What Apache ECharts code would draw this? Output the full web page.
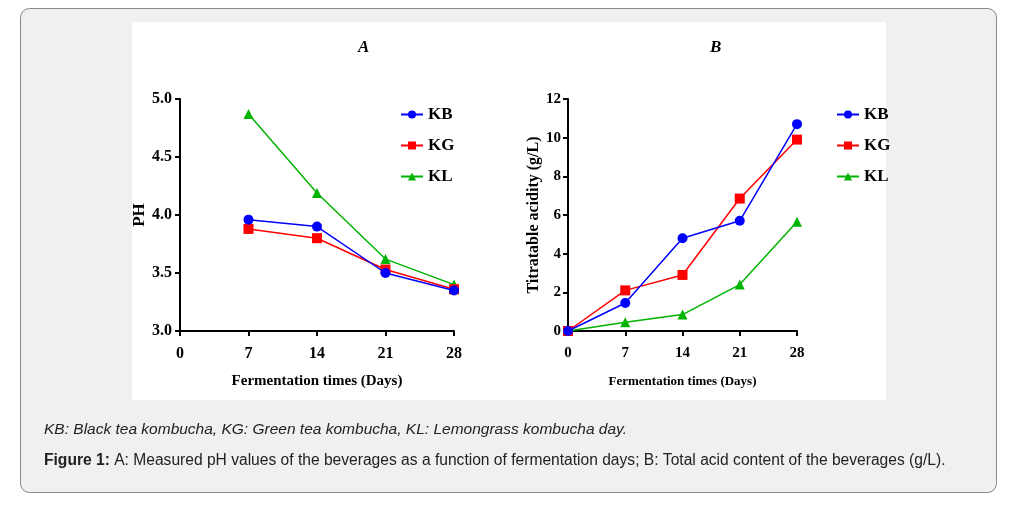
<!DOCTYPE html>
<html>
<head>
<meta charset="utf-8">
<script src="https://cdn.jsdelivr.net/npm/echarts@6/dist/echarts.min.js"></script>
<style>
  html, body { margin: 0; padding: 0; background: #fff; }
  #main { width: 1023px; height: 506px; }
</style>
</head>
<body>
<div id="main"></div>
<script>
// fermentation days
var daysA = [7, 14, 21, 28];
var daysB = [0, 7, 14, 21, 28];

// A: pH
var phKB = [3.96, 3.90, 3.50, 3.35];
var phKG = [3.88, 3.80, 3.53, 3.36];
var phKL = [4.87, 4.19, 3.62, 3.40];

// B: titratable acidity (g/L)
var acKB = [0, 1.45, 4.8, 5.7, 10.7];
var acKG = [0, 2.1, 2.9, 6.85, 9.9];
var acKL = [0, 0.45, 0.85, 2.4, 5.65];

var names = ['KB', 'KG', 'KL'];
var colors = ['#0000ff', '#ff0000', '#00b400'];
var symbols = ['circle', 'rect', 'triangle'];

var serif = '"Liberation Serif", "Times New Roman", serif';
var sans = '"Liberation Sans", Arial, sans-serif';

function pairs(xs, ys) {
  return xs.map(function (x, i) { return [x, ys[i]]; });
}

function mkSeries(name, idx, xs, ys, axisIdx) {
  return {
    name: name,
    type: 'line',
    xAxisIndex: axisIdx,
    yAxisIndex: axisIdx,
    data: pairs(xs, ys),
    symbol: symbols[idx],
    symbolSize: 10,
    color: colors[idx],
    lineStyle: { width: 1.5, color: colors[idx] },
    itemStyle: { color: colors[idx] },
    z: 3 + (2 - idx)
  };
}

function axisCommon(fs, margin) {
  return {
    axisLine: { show: true, lineStyle: { color: '#000', width: 2 } },
    axisTick: { show: true, length: 5, lineStyle: { color: '#000', width: 2 } },
    axisLabel: { color: '#000', fontFamily: serif, fontWeight: 'bold', fontSize: fs, margin: margin },
    splitLine: { show: false }
  };
}

function legendAt(left) {
  return {
    orient: 'vertical',
    left: left,
    top: 101,
    itemWidth: 22,
    itemHeight: 10,
    itemGap: 14,
    data: names,
    textStyle: { fontFamily: serif, fontWeight: 'bold', fontSize: 17, color: '#000' },
    selectedMode: false
  };
}

var chart = echarts.init(document.getElementById('main'));

var option = {
  backgroundColor: '#fff',
  animation: false,
  title: [
    { text: 'A', left: 353, top: 34, textStyle: { fontFamily: serif, fontStyle: 'italic', fontWeight: 'bold', fontSize: 17, color: '#000' } },
    { text: 'B', left: 705, top: 34, textStyle: { fontFamily: serif, fontStyle: 'italic', fontWeight: 'bold', fontSize: 17, color: '#000' } }
  ],
  legend: [legendAt(395), legendAt(831)],
  grid: [
    { left: 180, top: 99, width: 274, height: 232 },
    { left: 568, top: 99, width: 229, height: 232 }
  ],
  xAxis: [
    Object.assign(axisCommon(16, 15), {
      type: 'value', gridIndex: 0, min: 0, max: 28, interval: 7,
      name: 'Fermentation times (Days)', nameLocation: 'middle', nameGap: 43,
      nameTextStyle: { fontFamily: serif, fontWeight: 'bold', fontSize: 15, color: '#000' }
    }),
    Object.assign(axisCommon(15, 15), {
      type: 'value', gridIndex: 1, min: 0, max: 28, interval: 7,
      name: 'Fermentation times (Days)', nameLocation: 'middle', nameGap: 44,
      nameTextStyle: { fontFamily: serif, fontWeight: 'bold', fontSize: 13, color: '#000' }
    })
  ],
  yAxis: [
    Object.assign(axisCommon(16, 8), {
      type: 'value', gridIndex: 0, min: 3, max: 5, interval: 0.5,
      axisLabel: { color: '#000', fontFamily: serif, fontWeight: 'bold', fontSize: 16, margin: 8,
        formatter: function (v) { return v.toFixed(1); } },
      name: 'PH', nameLocation: 'middle', nameGap: 30,
      nameTextStyle: { fontFamily: serif, fontWeight: 'bold', fontSize: 17, color: '#000' }
    }),
    Object.assign(axisCommon(15, 7), {
      type: 'value', gridIndex: 1, min: 0, max: 12, interval: 2,
      name: 'Titratable acidity (g/L)', nameLocation: 'middle', nameGap: 18,
      nameTextStyle: { fontFamily: serif, fontWeight: 'bold', fontSize: 16, color: '#000' }
    })
  ],
  graphic: [
    {
      type: 'rect', z: -10, silent: true,
      shape: { x: 20.5, y: 8.5, width: 976, height: 484, r: 9 },
      style: { fill: '#f0f0f0', stroke: '#888', lineWidth: 1 }
    },
    {
      type: 'rect', z: -9, silent: true,
      shape: { x: 132, y: 22, width: 754, height: 378 },
      style: { fill: '#fff' }
    },
    {
      type: 'text', left: 44, top: 422, silent: true,
      style: {
        text: 'KB: Black tea kombucha, KG: Green tea kombucha, KL: Lemongrass kombucha day.',
        fontFamily: sans, fontStyle: 'italic', fontSize: 15.5, fill: '#222'
      }
    },
    {
      type: 'text', left: 44, top: 453, silent: true,
      style: {
        text: '{b|Figure 1:} A: Measured pH values of the beverages as a function of fermentation days; B: Total acid content of the beverages (g/L).',
        fontFamily: sans, fontSize: 15.6, fill: '#222',
        rich: { b: { fontWeight: 'bold', fontFamily: sans, fontSize: 15.6, fill: '#222' } }
      }
    }
  ],
  series: [
    mkSeries('KB', 0, daysA, phKB, 0),
    mkSeries('KG', 1, daysA, phKG, 0),
    mkSeries('KL', 2, daysA, phKL, 0),
    mkSeries('KB', 0, daysB, acKB, 1),
    mkSeries('KG', 1, daysB, acKG, 1),
    mkSeries('KL', 2, daysB, acKL, 1)
  ]
};

chart.setOption(option);
</script>
</body>
</html>
